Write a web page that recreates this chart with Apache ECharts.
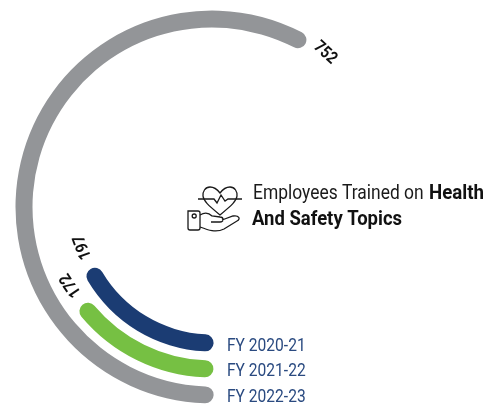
<!DOCTYPE html>
<html><head><meta charset="utf-8">
<style>html,body{margin:0;padding:0;background:#fff}#c{width:485px;height:407px}</style>
<script src="https://cdn.jsdelivr.net/npm/echarts@6/dist/echarts.min.js"></script>
</head><body><div id="c"></div>
<script>
const years = ['FY 2020-21', 'FY 2021-22', 'FY 2022-23'];
const values = [197, 172, 752];
const colors = ['#1b3c73', '#76c043', '#939598'];
const title1 = 'Employees Trained on';
const title1b = 'Health';
const title2 = 'And Safety Topics';

// Each ring has its own angle scale, because the arcs in the picture do not share one.
const ringRadius = [136, 162, 188];
const ringScaleMax = [1255, 1304, 1320];
const ringStart = [267.1, 267.5, 267.9];
const labelAt = [[83, 247, 110], [71, 285, 124], [325, 53, -42]];
const cx = 212, cy = 207, w = 17;

const polar = [], angleAxis = [], radiusAxis = [], series = [];
values.forEach((v, i) => {
  polar.push({center: [cx, cy], radius: [ringRadius[i] - w / 2, ringRadius[i] + w / 2]});
  angleAxis.push({polarIndex: i, type: 'value', min: 0, max: ringScaleMax[i], startAngle: ringStart[i], clockwise: true, show: false});
  radiusAxis.push({polarIndex: i, type: 'category', data: [years[i]], show: false});
  series.push({
    type: 'bar', coordinateSystem: 'polar', polarIndex: i, barWidth: '100%', roundCap: true,
    data: [v], itemStyle: {color: colors[i]}, silent: true, animation: false
  });
});

const S = '#1a1a1a';
const iconPaths = [
  'M220 193 C217 189 213 187 210 187 C205 187 202.5 192 203 196 C203.5 201 208 205 220 215 C232 205 236.5 201 237 196 C237.5 192 235 187 230 187 C227 187 223 189 220 193 Z',
  'M198 199 L214 199 L217 203 L221 195 L225 201 L228 199 L242 199',
  'M188 211 H198 Q200 211 200 213 V228 Q200 230 198 230 H190 Q188 230 188 228 Z',
  'M192.2 216 a2 2 0 1 0 4 0 a2 2 0 1 0 -4 0',
  'M200 215 C205 212 209 213 212 216 L220 217 C224 217 224 222 220 222 L211 222 M222 220 L233 216 C239 215 241 219 237 221 L224 229 C216 233 208 230 200 227'
];
series.push({
  type: 'custom', coordinateSystem: 'none', silent: true, data: [0], animation: false,
  renderItem: () => ({type: 'group', children: iconPaths.map(p => ({
    type: 'path', shape: {pathData: p, layout: 'none'}, style: {fill: 'none', stroke: S, lineWidth: 1.3}
  }))})
});

const font = 'Roboto';
function txt(x, y, text, size, color, weight, sx) {
  return {type: 'text', x, y, scaleX: sx, silent: true,
    style: {text, fill: color, font: `${weight} ${size}px ${font}`, textVerticalAlign: 'middle'}};
}
const graphic = [
  txt(227, 346, years[0], 19, '#2a4a80', 400, 0.82),
  txt(227, 371, years[1], 19, '#2a4a80', 400, 0.82),
  txt(227, 397, years[2], 19, '#2a4a80', 400, 0.82),
  txt(253, 194, title1, 21, '#1a1a1a', 400, 0.83),
  txt(429, 194, title1b, 21, '#111', 700, 0.89),
  txt(252, 220, title2, 21, '#111', 700, 0.88)
];
values.forEach((v, i) => {
  graphic.push({type: 'text', x: labelAt[i][0], y: labelAt[i][1], rotation: labelAt[i][2] * Math.PI / 180, scaleX: 0.85, silent: true,
    style: {text: String(v), fill: '#111', font: `700 17px ${font}`, textAlign: 'center', textVerticalAlign: 'middle'}});
});

const chart = echarts.init(document.getElementById('c'), null, {renderer: 'canvas'});
chart.setOption({animation: false, polar, angleAxis, radiusAxis, series, graphic, tooltip: {show: false}});
</script></body></html>
